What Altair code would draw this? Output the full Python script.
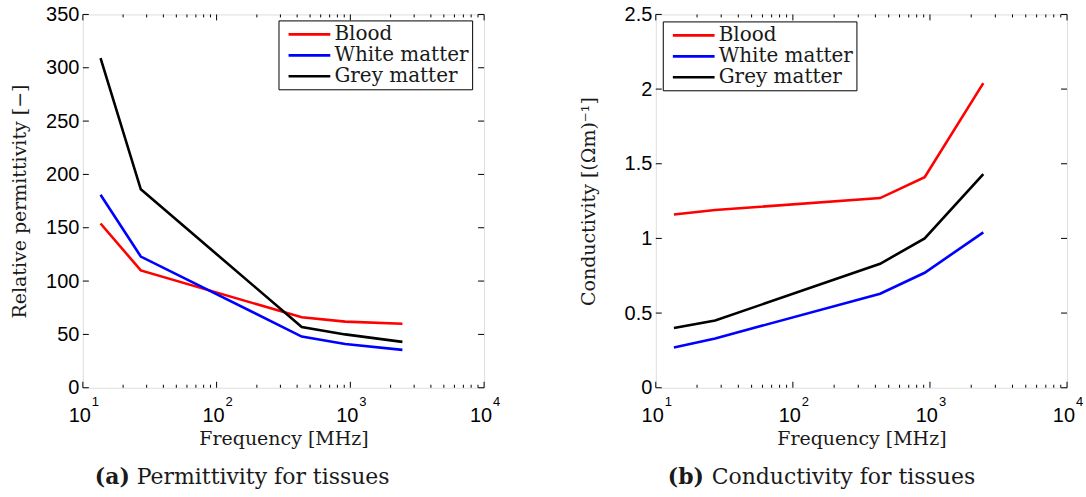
import altair as alt
import pandas as pd

# ---------------- data ----------------
freq = [13.56, 27.12, 433, 915, 2450]
tissues = ["Blood", "White matter", "Grey matter"]
colors = ["#ff0000", "#0000ff", "#000000"]

perm_blood = [154, 110, 66, 62, 60]
perm_white = [181, 123, 48, 41, 35.5]
perm_grey = [309, 186, 57, 50, 43]

cond_blood = [1.16, 1.19, 1.27, 1.41, 2.04]
cond_white = [0.27, 0.33, 0.63, 0.77, 1.04]
cond_grey = [0.40, 0.45, 0.83, 1.00, 1.43]

major_x = [10, 100, 1000, 10000]
major_x_exp = ["1", "2", "3", "4"]
minor_x = [20, 30, 40, 50, 60, 70, 80, 90,
           200, 300, 400, 500, 600, 700, 800, 900,
           2000, 3000, 4000, 5000, 6000, 7000, 8000, 9000]
perm_ticks = [0, 50, 100, 150, 200, 250, 300, 350]
cond_ticks = [0, 0.5, 1, 1.5, 2, 2.5]

SERIF = "DejaVu Serif"
SANS = "Liberation Sans"
TXT = "#1a1a1a"


def long_df(series):
    rows = []
    for name, vals in zip(tissues, series):
        for f, v in zip(freq, vals):
            rows.append({"f": f, "v": v, "tissue": name})
    return pd.DataFrame(rows)


def panel(series, ymax, yticks, ytitle, yfmt, leg_x, leg_y, cap_a, cap_b,
          cap_bx, W, H, ytpad):
    df = long_df(series)
    xscale = alt.Scale(type="log", domain=[10, 10000], nice=False)
    yscale = alt.Scale(domain=[0, ymax], nice=False, zero=False)
    xaxis = alt.Axis(
        values=major_x, ticks=False, domain=False, grid=False, labels=False,
        title="Frequency [MHz]", titleFont=SERIF, titleFontSize=19,
        titleFontWeight="normal", titleColor=TXT, titlePadding=42,
    )
    yaxis = alt.Axis(
        values=yticks, ticks=False, domain=False, grid=False, format=yfmt,
        labelFont=SANS, labelFontSize=20, labelColor="black", labelPadding=4,
        labelFlush=False, labelOverlap=False,
        title=ytitle, titleFont=SERIF, titleFontSize=19,
        titleFontWeight="normal", titleColor=TXT, titlePadding=ytpad,
    )
    X = alt.X("f:Q", scale=xscale, axis=xaxis)
    Y = alt.Y("v:Q", scale=yscale, axis=yaxis)

    lines = alt.Chart(df).mark_line(strokeWidth=2.6).encode(
        x=X, y=Y,
        color=alt.Color(
            "tissue:N",
            scale=alt.Scale(domain=tissues, range=colors),
            sort=tissues,
            legend=alt.Legend(
                title=None, orient="none", legendX=leg_x, legendY=leg_y,
                symbolType="M-2.2,0H2.2", symbolSize=361, symbolStrokeWidth=2.6,
                symbolOffset=17,
                labelFont=SERIF, labelFontSize=20, labelColor=TXT,
                strokeColor="black", fillColor="white", padding=3,
                rowPadding=-5, labelOffset=14,
            ),
        ),
    )

    majx = pd.DataFrame({"f": major_x, "e": major_x_exp, "b": ["10"] * 4})
    minx = pd.DataFrame({"f": minor_x})
    ydf = pd.DataFrame({"v": yticks})

    rule = dict(color="black", strokeWidth=1)
    bot_major = alt.Chart(majx).mark_rule(**rule).encode(
        x=X, y=alt.value(H), y2=alt.value(H - 6))
    top_major = alt.Chart(majx).mark_rule(**rule).encode(
        x=X, y=alt.value(0), y2=alt.value(6))
    bot_minor = alt.Chart(minx).mark_rule(**rule).encode(
        x=X, y=alt.value(H), y2=alt.value(H - 3))
    top_minor = alt.Chart(minx).mark_rule(**rule).encode(
        x=X, y=alt.value(0), y2=alt.value(3))
    left_y = alt.Chart(ydf).mark_rule(**rule).encode(
        y=Y, x=alt.value(0), x2=alt.value(6))
    right_y = alt.Chart(ydf).mark_rule(**rule).encode(
        y=Y, x=alt.value(W), x2=alt.value(W - 6))

    # x tick labels: 10 with superscript exponent
    base_lbl = alt.Chart(majx).mark_text(
        font=SANS, fontSize=20, align="right", baseline="alphabetic",
        color="black", dx=8).encode(x=X, y=alt.value(H + 34), text="b:N")
    exp_lbl = alt.Chart(majx).mark_text(
        font=SANS, fontSize=13, align="left", baseline="alphabetic",
        color="black", dx=9).encode(x=X, y=alt.value(H + 18), text="e:N")

    cap = pd.DataFrame({"a": [cap_a], "b": [cap_b]})
    cap1 = alt.Chart(cap).mark_text(
        font=SERIF, fontSize=22, fontWeight="bold", align="left",
        baseline="middle", color=TXT).encode(
        text="a:N", x=alt.value(12), y=alt.value(H + 89))
    cap2 = alt.Chart(cap).mark_text(
        font=SERIF, fontSize=22, align="left",
        baseline="middle", color=TXT).encode(
        text="b:N", x=alt.value(cap_bx), y=alt.value(H + 89))

    return alt.layer(
        lines, bot_major, top_major, bot_minor, top_minor, left_y, right_y,
        base_lbl, exp_lbl, cap1, cap2
    ).properties(width=W, height=H)


left = panel([perm_blood, perm_white, perm_grey], 350, perm_ticks,
             "Relative permittivity [−]", "d", 196, 6,
             "(a)", "Permittivity for tissues", 54, 402, 374, 16)
right = panel([cond_blood, cond_white, cond_grey], 2.5, cond_ticks,
              "Conductivity  [(Ωm)⁻¹]", "~g", 7, 7,
              "(b)", "Conductivity for tissues", 56, 412, 374, 26)

chart = alt.hconcat(left, right, spacing=172, bounds="flush").resolve_scale(
    color="independent"
).properties(
    padding={"left": 10, "top": 3, "right": 2, "bottom": 2}
).configure_view(stroke="black", strokeWidth=1.3).configure(
    background="white"
)

chart.save("out.html", embed_options={"renderer": "svg", "actions": False})
